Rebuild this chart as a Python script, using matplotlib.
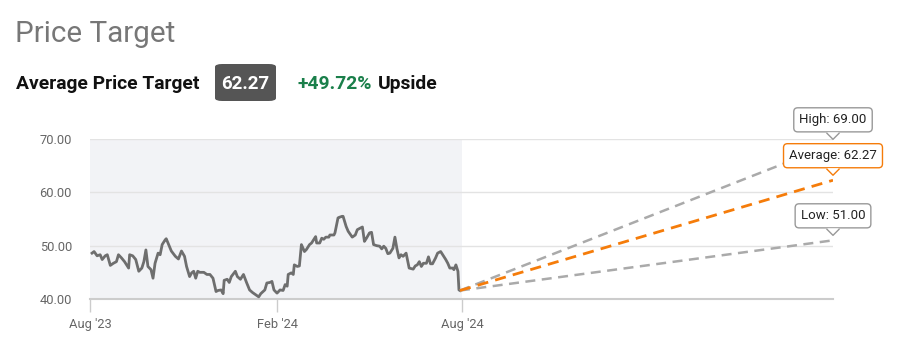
import numpy as np
import matplotlib

matplotlib.use("Agg")
import matplotlib.pyplot as plt
import matplotlib.dates as mdates
from matplotlib.patches import FancyBboxPatch, Polygon
from matplotlib.lines import Line2D
from matplotlib.transforms import IdentityTransform

plt.rcParams["font.family"] = ["Roboto", "DejaVu Sans"]

# price history: days after 2023-08-01 and closing price
start_date = np.datetime64("2023-08-01")
day_offsets = [
    2, 4, 7, 10, 12, 15, 17, 20, 23, 26, 28, 31, 34, 38, 39, 42, 45, 48, 51, 53,
    55, 57, 60, 62, 64, 67, 69, 71, 74, 75, 78, 80, 84, 87, 90, 93, 95, 98, 100, 102,
    104, 106, 108, 112, 115, 118, 121, 124, 126, 129, 131, 132, 135, 137, 139, 143, 145, 148, 151, 154,
    157, 160, 163, 166, 168, 172, 174, 177, 179, 181, 184, 187, 190, 192, 194, 195, 198, 200, 201, 204,
    206, 208, 211, 213, 216, 218, 222, 223, 226, 228, 230, 232, 235, 236, 240, 241, 244, 245, 248, 249,
    252, 254, 258, 261, 263, 266, 268, 270, 272, 275, 277, 279, 282, 285, 287, 289, 291, 293, 295, 298,
    300, 302, 304, 306, 308, 311, 314, 318, 320, 322, 324, 326, 328, 331, 333, 335, 337, 340, 342, 345,
    347, 350, 352, 354, 357, 358, 360, 362, 363, 364,
]
prices = [
    48.6, 48.9, 48.1, 48.3, 47.4, 48.1, 48.3, 46.3, 46.7, 47.0, 48.3, 47.7, 47.0, 45.8, 48.3, 48.1, 47.4, 45.2, 45.8, 47.0,
    49.2, 46.1, 45.5, 43.9, 46.7, 48.6, 48.3, 50.2, 51.1, 51.3, 49.9, 49.0, 48.0, 47.5, 49.0, 48.0, 46.1, 44.2, 44.9, 45.2,
    43.9, 45.2, 45.0, 45.0, 44.6, 44.6, 43.9, 41.4, 41.6, 41.7, 41.0, 43.5, 43.7, 43.1, 44.2, 45.2, 44.2, 43.7, 44.6, 43.1,
    41.7, 41.2, 40.8, 40.4, 41.0, 41.7, 43.0, 43.1, 43.3, 41.7, 41.1, 41.7, 41.6, 42.7, 42.4, 44.6, 44.9, 44.6, 46.4, 46.1,
    46.2, 50.2, 48.9, 49.3, 50.2, 50.5, 51.7, 50.5, 50.5, 51.4, 51.2, 51.6, 51.6, 52.0, 52.0, 52.4, 55.2, 55.3, 55.5, 55.5,
    53.6, 52.7, 51.6, 52.0, 53.0, 53.3, 53.5, 50.8, 51.4, 52.4, 52.5, 50.2, 50.0, 49.9, 49.4, 49.9, 49.5, 48.5, 48.6, 49.5,
    51.6, 49.4, 47.7, 48.3, 48.0, 48.6, 45.8, 45.6, 46.2, 46.4, 47.0, 46.1, 46.7, 46.7, 47.9, 46.6, 46.6, 47.7, 48.6, 48.9,
    48.3, 47.4, 46.7, 45.8, 45.8, 45.5, 46.4, 45.2, 41.7, 41.59,
]

# analyst targets, one year out
target_date = np.datetime64("2025-08-01")
target_names = ["High", "Low", "Average"]
target_values = [69.00, 51.00, 62.27]
average_target = 62.27
upside_pct = 49.72

tick_dates = ["2023-08-01", "2024-02-01", "2024-08-01"]
tick_labels = ["Aug '23", "Feb '24", "Aug '24"]
y_ticks = [40, 50, 60, 70]

ORANGE = "#f57c0a"
GRAY_DASH = "#aaaaaa"

W, H = 899, 357
fig = plt.figure(figsize=(W / 100, H / 100), dpi=100)
ax = fig.add_axes([90 / W, 1 - 299 / H, (833 - 90) / W, (299 - 139) / H])

dates = start_date + np.array(day_offsets, dtype="timedelta64[D]")
xs = mdates.date2num(dates.astype("datetime64[s]").astype(object))
x0 = mdates.date2num(start_date.astype(object))
x_now = mdates.date2num(np.datetime64("2024-08-01").astype(object))
x_end = mdates.date2num(target_date.astype(object))

ax.axvspan(x0, x_now, color="#f2f3f6", zorder=0, lw=0)
ax.plot(xs, prices, color="#6e6e6e", lw=2.0, zorder=3, solid_joinstyle="round")

last_x, last_p = xs[-1], prices[-1]
for name, val in zip(target_names, target_values):
    col = ORANGE if name == "Average" else GRAY_DASH
    lw = 2.0 if name == "Average" else 1.8
    ax.plot([last_x, x_end], [last_p, val], color=col, lw=lw, dashes=(4, 2.6), zorder=4)

ax.set_xlim(x0, x_end)
ax.set_ylim(40, 70)
ax.set_yticks(y_ticks)
ax.set_yticklabels([f"{v:.2f}" for v in y_ticks])
ax.set_xticks([mdates.date2num(np.datetime64(d).astype(object)) for d in tick_dates])
ax.set_xticklabels(tick_labels)
ax.grid(axis="y", color="#e3e3e3", lw=1.0, zorder=1)
ax.set_axisbelow(True)
for s in ["top", "right", "left"]:
    ax.spines[s].set_visible(False)
ax.spines["bottom"].set_color("#cccccc")
ax.spines["bottom"].set_linewidth(1.5)
ax.tick_params(axis="y", length=0, pad=13, labelsize=9.3, labelcolor="#666666")
ax.tick_params(axis="x", length=9, width=1, color="#cccccc", pad=5, labelsize=9.3, labelcolor="#666666")
ax.set_facecolor("white")

# callout labels at the end of each target line
fig.canvas.draw()
for name, val in zip(target_names, target_values):
    edge = ORANGE if name == "Average" else "#999999"
    ax.annotate(f"{name}: {val:.2f}", xy=(x_end, val), xytext=(0, 24.5), textcoords="offset pixels",
                ha="center", va="center", fontsize=9.5, color="#222222", zorder=6, annotation_clip=False,
                bbox=dict(boxstyle="round,pad=0.42,rounding_size=0.3", fc="white", ec=edge, lw=1))
    px, py = ax.transData.transform((x_end, val))
    tri = Polygon([[px - 6, py + 12], [px, py + 5], [px + 6, py + 12]], closed=True,
                  transform=IdentityTransform(), fc="white", ec="none", zorder=7)
    fig.add_artist(tri)
    fig.add_artist(Line2D([px - 6, px, px + 6], [py + 11, py + 5, py + 11], transform=IdentityTransform(),
                          color=edge, lw=1, zorder=8))

# header
fig.text(15 / W, 1 - 42.5 / H, "Price Target", fontsize=21.3, color="#777777", va="baseline")
fig.text(16 / W, 1 - 89.3 / H, "Average Price Target", fontsize=13.9, fontweight="bold",
         color="#111111", va="baseline")
fig.add_artist(FancyBboxPatch((215 / W, 1 - 101 / H), 61 / W, 37 / H,
                              boxstyle="round,pad=0,rounding_size=0.008", transform=fig.transFigure,
                              fc="#555555", ec="none"))
fig.text(245.5 / W, 1 - 89.3 / H, f"{average_target:.2f}", fontsize=13.5, fontweight="bold",
         color="white", ha="center", va="baseline")
up = fig.text(298 / W, 1 - 89.3 / H, f"+{upside_pct:.2f}%", fontsize=13.9, fontweight="bold",
              color="#1a7f4a", va="baseline")
fig.canvas.draw()
bb = up.get_window_extent()
fig.text((bb.x1 + 5) / W, 1 - 89.3 / H, "Upside", fontsize=13.9, fontweight="bold",
         color="#111111", va="baseline")

fig.savefig("out.png", dpi=100)
